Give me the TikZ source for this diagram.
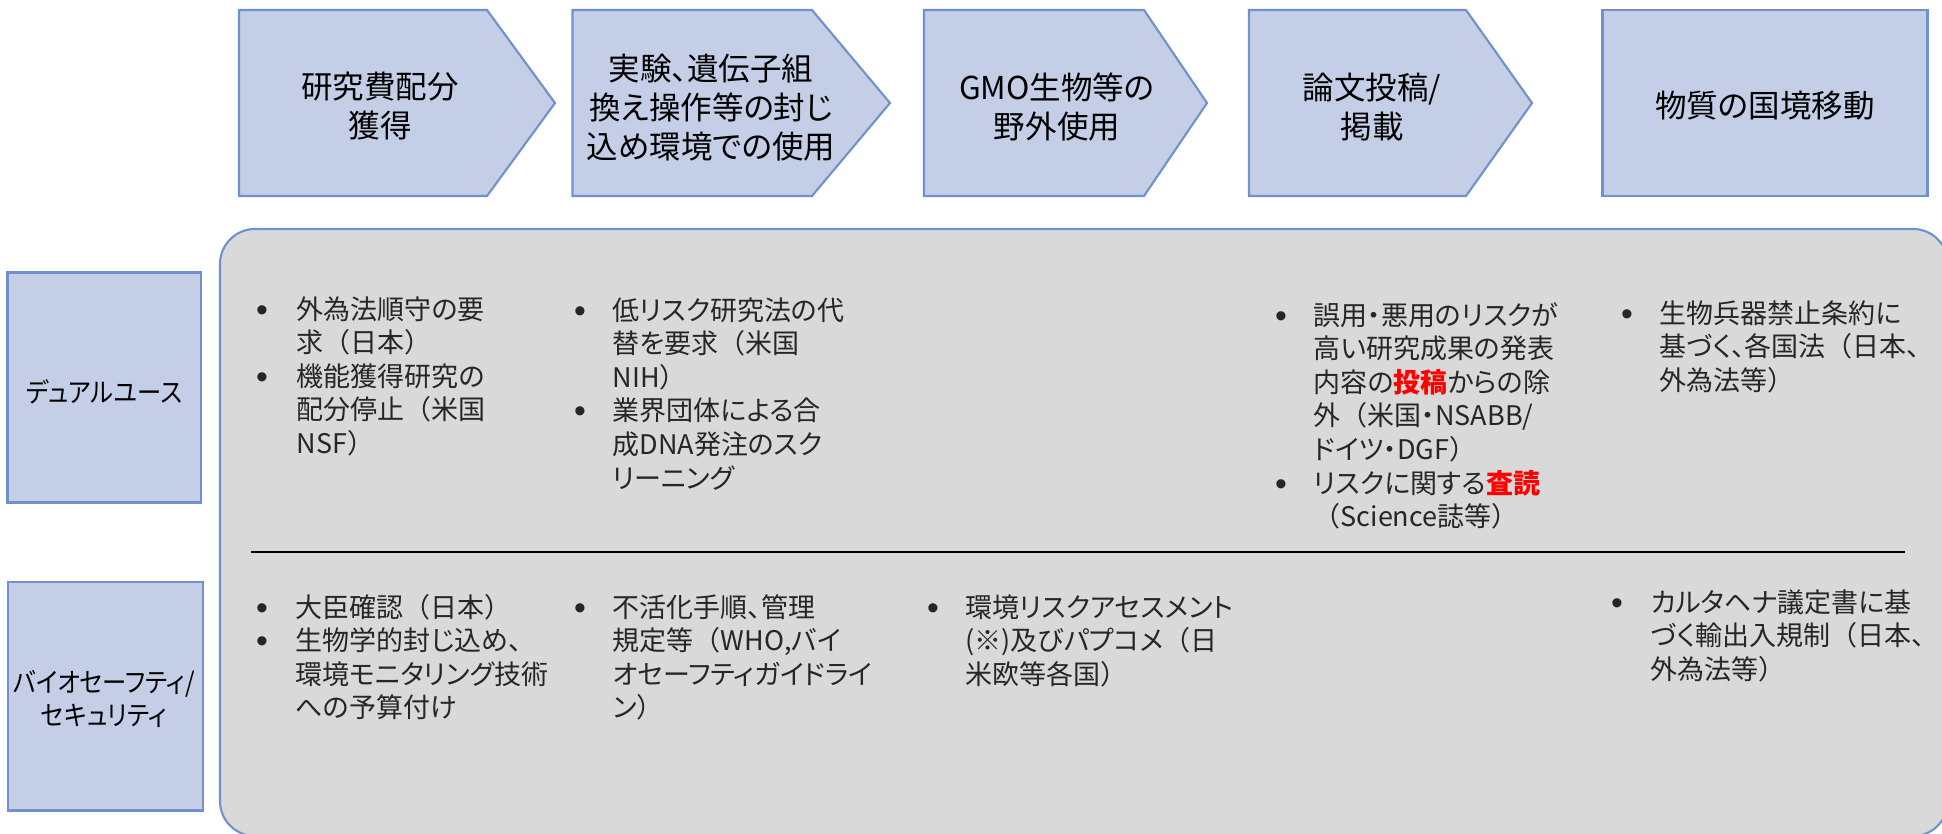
\documentclass[tikz,border=0pt]{standalone}
\usepackage{fontspec}
\setmainfont{Noto Sans CJK JP}[RawFeature=+palt]
\newfontfamily\jpfw{Noto Sans CJK JP}
\newfontfamily\lblfamily{Noto Sans CJK JP}[RawFeature=+palt, FakeStretch=0.9]
\newfontfamily\bulfont{Liberation Sans}
\definecolor{hdrfill}{RGB}{196,206,230}
\definecolor{hdrline}{RGB}{112,145,204}
\definecolor{panelfill}{RGB}{217,217,217}
\definecolor{bodytext}{RGB}{38,38,38}
\newcommand\lpar{{\jpfw （}}
\newcommand\rpar{{\jpfw ）}}
\newcommand\hl[1]{{\color{red}\bfseries #1}}
\newcommand\hdrfont{\fontsize{8.96pt}{11.1pt}\selectfont}
\newcommand\bodyfont{\fontsize{7.68pt}{9.56pt}\selectfont}
\newcommand\bulsize{\fontsize{9.6pt}{11pt}\selectfont}
\tikzset{
  hdrshape/.style={fill=hdrfill, draw=hdrline, line width=0.6pt, line join=miter},
  panelshape/.style={fill=panelfill, draw=hdrline, line width=0.6pt, rounded corners=0.35cm},
  sepline/.style={draw=black, line width=0.45pt},
  hdrtxt/.style={inner sep=0pt, anchor=base, text=black, font=\hdrfont},
  lbltxt/.style={inner sep=0pt, anchor=base, text=black, font=\lblfamily\bodyfont},
  bodytxt/.style={inner sep=0pt, anchor=base west, text=bodytext, font=\bodyfont},
  bulletmark/.style={inner sep=0pt, anchor=base, text=bodytext, font=\bulsize\bulfont, yshift=-0.02cm},
}
\begin{document}
\begin{tikzpicture}[x=0.01cm, y=-0.01cm]
\useasboundingbox (0,0) rectangle (1942,833);
% panel
\begin{scope}
\clip (0,0) rectangle (1942,833);
\draw[panelshape] (220,229) rectangle (1948,836);
\end{scope}
\coordinate (sepL) at (251,552);
\coordinate (sepR) at (1905,552);
\draw[sepline] (sepL) -- (sepR);
% header shapes
\draw[hdrshape] (239,10) -- (487,10) -- (555,103) -- (487,196) -- (239,196) -- cycle;
\draw[hdrshape] (572.5,10) -- (812,10) -- (890,103) -- (812,196) -- (572.5,196) -- cycle;
\draw[hdrshape] (924,10) -- (1144,10) -- (1207,103) -- (1144,196) -- (924,196) -- cycle;
\draw[hdrshape] (1249,10) -- (1466,10) -- (1532,103) -- (1466,196) -- (1249,196) -- cycle;
\draw[hdrshape] (1602.5,10) rectangle (1927.5,196);
\node[hdrtxt] (h1) at (380,98) {\parbox[t]{4cm}{\centering 研究費配分\\獲得}};
\node[hdrtxt] (h2) at (711,80) {\parbox[t]{4cm}{\centering 実験、遺伝子組\\換え操作等の封じ\\込め環境での使用}};
\node[hdrtxt] (h3) at (1057,99) {\parbox[t]{4cm}{\centering GMO生物等の\\野外使用}};
\node[hdrtxt] (h4) at (1372,99) {\parbox[t]{4cm}{\centering 論文投稿/\\掲載}};
\node[hdrtxt] (h5) at (1765,117) {\parbox[t]{4cm}{\centering 物質の国境移動}};
% left labels
\draw[hdrshape] (7.5,272.5) rectangle (201,502.5);
\draw[hdrshape] (8,582) rectangle (203,810.5);
\node[lbltxt] (l1) at (104,402) {\parbox[t]{3cm}{\centering デュアルユース}};
\node[lbltxt] (l2) at (104,692) {\parbox[t]{3cm}{\centering バイオセーフティ/\\セキュリティ}};
% top row
\node[bulletmark] (b11) at (262,319) {•};
\node[bodytxt] (t11) at (296,319) {\parbox[t]{5cm}{外為法順守の要\\求\lpar 日本\rpar}};
\node[bulletmark] (b12) at (262,386.2) {•};
\node[bodytxt] (t12) at (296,386.2) {\parbox[t]{5cm}{機能獲得研究の\\配分停止\lpar 米国\\NSF\rpar}};
\node[bulletmark] (b21) at (580,320) {•};
\node[bodytxt] (t21) at (612,320) {\parbox[t]{5cm}{低リスク研究法の代\\替を要求\lpar 米国\\NIH\rpar}};
\node[bulletmark] (b22) at (580,420.8) {•};
\node[bodytxt] (t22) at (612,420.8) {\parbox[t]{5cm}{業界団体による合\\成DNA発注のスク\\リーニング}};
\node[bulletmark] (b41) at (1281,325) {•};
\node[bodytxt] (t41) at (1313,325) {\parbox[t]{5cm}{誤用・悪用のリスクが\\高い研究成果の発表\\内容の\hl{投稿}からの除\\外\lpar 米国・NSABB/\\ドイツ・DGF\rpar}};
\node[bulletmark] (b42) at (1281,493) {•};
\node[bodytxt] (t42) at (1313,493) {\parbox[t]{5cm}{リスクに関する\hl{査読}\\\lpar Science誌等\rpar}};
\node[bulletmark] (b51) at (1627,323) {•};
\node[bodytxt] (t51) at (1659,323) {\parbox[t]{5cm}{生物兵器禁止条約に\\基づく、各国法\lpar 日本、\\外為法等\rpar}};
% bottom row
\node[bulletmark] (c11) at (262,617) {•};
\node[bodytxt] (u11) at (295,617) {\parbox[t]{5cm}{大臣確認\lpar 日本\rpar}};
\node[bulletmark] (c12) at (262,650.6) {•};
\node[bodytxt] (u12) at (295,650.6) {\parbox[t]{5cm}{生物学的封じ込め、\\環境モニタリング技術\\への予算付け}};
\node[bulletmark] (c21) at (580,617) {•};
\node[bodytxt] (u21) at (612,617) {\parbox[t]{5cm}{不活化手順、管理\\規定等\lpar WHO,バイ\\オセーフティガイドライ\\ン\rpar}};
\node[bulletmark] (c31) at (933,617) {•};
\node[bodytxt] (u31) at (965,617) {\parbox[t]{5cm}{環境リスクアセスメント\\(※)及びパプコメ\lpar 日\\米欧等各国\rpar}};
\node[bulletmark] (c51) at (1617,612) {•};
\node[bodytxt] (u51) at (1650,612) {\parbox[t]{5cm}{カルタヘナ議定書に基\\づく輸出入規制\lpar 日本、\\外為法等\rpar}};
\end{tikzpicture}
\end{document}
